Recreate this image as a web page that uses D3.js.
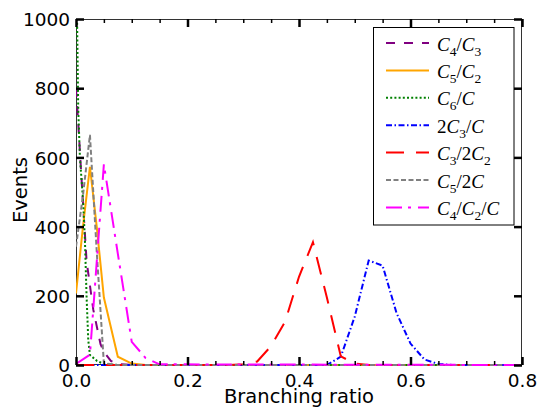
<!DOCTYPE html>
<html><head><meta charset="utf-8">
<script src="https://cdn.jsdelivr.net/npm/d3@7/dist/d3.min.js"></script>
<style>body{margin:0;background:#fff}svg{display:block}</style>
</head><body><svg id="c" width="542" height="408"></svg>
<script>
// ---- data ----
const labels = ["C_4/C_3", "C_5/C_2", "C_6/C", "2C_3/C", "C_3/2C_2", "C_5/2C", "C_4/C_2/C"];
const colors = ["purple", "orange", "green", "blue", "red", "gray", "magenta"];
const dashes = ["9,9", null, "2,2.2", "6,2.5,1.5,2.5", "18,12", "5,2.5", "16,6,3,7"];

const c4c3X = [0, 0.004, 0.008, 0.0125, 0.019, 0.025, 0.031, 0.0375, 0.044, 0.05, 0.0625, 0.075, 0.1, 0.8];
const c4c3Y = [800, 700, 590, 470, 300, 230, 160, 110, 60, 38, 12, 3, 0, 0];
const c5c2X = [0, 0.0125, 0.025, 0.0375, 0.05, 0.075, 0.1, 0.125, 0.8];
const c5c2Y = [207, 400, 573, 395, 195, 24, 4, 0, 0];
const c6cX = [0, 0.002, 0.004, 0.007, 0.0125, 0.016, 0.019, 0.022, 0.025, 0.0375, 0.05, 0.075, 0.8];
const c6cY = [1050, 990, 740, 600, 480, 361, 197, 72, 29, 12, 3, 0, 0];
const c3cX = [0, 0.45, 0.475, 0.5, 0.525, 0.55, 0.575, 0.6, 0.625, 0.65, 0.675, 0.8];
const c3cY = [0, 0, 24, 140, 302, 287, 150, 62, 16, 3, 0, 0];
const c3c2X = [0, 0.275, 0.3, 0.325, 0.35, 0.375, 0.4, 0.425, 0.45, 0.475, 0.5, 0.525, 0.8];
const c3c2Y = [0, 0, 2, 10, 55, 125, 255, 355, 195, 25, 4, 0, 0];
const c52cX = [0, 0.0125, 0.025, 0.0375, 0.05, 0.075, 0.8];
const c52cY = [342, 490, 665, 320, 5, 0, 0];
const c4c2cX = [0, 0.025, 0.05, 0.075, 0.1, 0.125, 0.15, 0.8];
const c4c2cY = [3, 30, 580, 322, 67, 20, 2, 0];

const seriesX = [c4c3X, c5c2X, c6cX, c3cX, c3c2X, c52cX, c4c2cX];
const seriesY = [c4c3Y, c5c2Y, c6cY, c3cY, c3c2Y, c52cY, c4c2cY];

const xMajor = [0, 0.2, 0.4, 0.6, 0.8];
const xMajorLabels = ["0.0", "0.2", "0.4", "0.6", "0.8"];
const xMinor = [0.05, 0.1, 0.15, 0.25, 0.3, 0.35, 0.45, 0.5, 0.55, 0.65, 0.7, 0.75];
const yMajor = [0, 200, 400, 600, 800, 1000];
const yMajorLabels = ["0", "200", "400", "600", "800", "1000"];

// ---- layout ----
const L = 76, R = 522, T = 19, B = 365;
const svg = d3.select("#c");
const x = d3.scaleLinear().domain([0, 0.8]).range([L, R]);
const y = d3.scaleLinear().domain([0, 1000]).range([B, T]);

svg.append("defs").append("clipPath").attr("id", "clip")
  .append("rect").attr("x", L).attr("y", T).attr("width", R - L).attr("height", B - T + 1);

// frame
svg.append("rect").attr("x", L + 0.5).attr("y", T + 0.5).attr("width", R - L - 1).attr("height", B - T - 1)
  .attr("fill", "none").attr("stroke", "#333").attr("stroke-width", 1);

// lines
const g = svg.append("g").attr("clip-path", "url(#clip)");
const line = d3.line().x(d => x(d[0])).y(d => y(d[1]));
seriesX.forEach((xs, i) => {
  const pts = xs.map((v, j) => [v, seriesY[i][j]]);
  g.append("path").attr("d", line(pts)).attr("fill", "none")
    .attr("stroke", colors[i]).attr("stroke-width", 2)
    .attr("stroke-dasharray", dashes[i]);
});

// axes with inward ticks
const font = "DejaVu Sans, sans-serif";
function ticks(axisGen, tr, size, sw, showLabels, labelsArr) {
  const a = svg.append("g").attr("transform", tr).call(axisGen);
  a.select(".domain").remove();
  a.selectAll(".tick line").attr("stroke", "#000").attr("stroke-width", sw);
  if (!showLabels) a.selectAll(".tick text").remove();
  else a.selectAll(".tick text").attr("font-family", font).attr("font-size", 18.5).attr("fill", "#000");
  return a;
}
// bottom
ticks(d3.axisBottom(x).tickValues(xMajor).tickSize(-8).tickPadding(0).tickFormat((d, i) => xMajorLabels[i]),
  `translate(0,${B})`, 8, 2.5, true)
  .selectAll(".tick text").attr("y", 22).attr("dy", 0);
ticks(d3.axisBottom(x).tickValues(xMinor).tickSize(-4), `translate(0,${B})`, 4, 1.5, false);
// top
ticks(d3.axisTop(x).tickValues(xMajor).tickSize(-8), `translate(0,${T})`, 8, 2.5, false);
ticks(d3.axisTop(x).tickValues(xMinor).tickSize(-4), `translate(0,${T})`, 4, 1.5, false);
// left
ticks(d3.axisLeft(y).tickValues(yMajor).tickSize(-8).tickPadding(14).tickFormat((d, i) => yMajorLabels[i]),
  `translate(${L},0)`, 8, 2.5, true)
  .selectAll(".tick text").attr("x", -6).attr("dy", "0.36em");
// right
ticks(d3.axisRight(y).tickValues(yMajor).tickSize(-8), `translate(${R},0)`, 8, 2.5, false);

// axis titles
svg.append("text").attr("x", (L + R) / 2).attr("y", 403).attr("text-anchor", "middle")
  .attr("font-family", font).attr("font-size", 19.5).text("Branching ratio");
svg.append("text").attr("transform", "translate(27,190) rotate(-90)").attr("text-anchor", "middle")
  .attr("font-family", font).attr("font-size", 19.5).text("Events");

// legend
const lg = svg.append("g");
lg.append("rect").attr("x", 373.5).attr("y", 27.5).attr("width", 140.5).attr("height", 197.5)
  .attr("fill", "#fff").attr("stroke", "#000").attr("stroke-width", 1);
labels.forEach((lab, i) => {
  const ry = 43 + i * 27.4;
  lg.append("line").attr("x1", 386).attr("x2", 429).attr("y1", ry).attr("y2", ry)
    .attr("stroke", colors[i]).attr("stroke-width", 2).attr("stroke-dasharray", dashes[i]);
  const t = lg.append("text").attr("x", 437).attr("y", ry + 7.5)
    .attr("font-family", "Liberation Serif, serif").attr("font-size", 19);
  // parse label: "_d" = subscript digit, letters italic, others upright
  const toks = lab.match(/_\d|[A-Za-z]|[^_A-Za-z]/g);
  let sub = false;
  toks.forEach(tk => {
    if (tk[0] === "_") {
      t.append("tspan").attr("font-size", 13.5).attr("dy", 5).text(tk.slice(1));
      sub = true;
    } else {
      const s = t.append("tspan").text(tk);
      if (sub) { s.attr("dy", -5); sub = false; }
      if (/[A-Za-z]/.test(tk)) s.attr("font-style", "italic");
    }
  });
});
</script></body></html>
